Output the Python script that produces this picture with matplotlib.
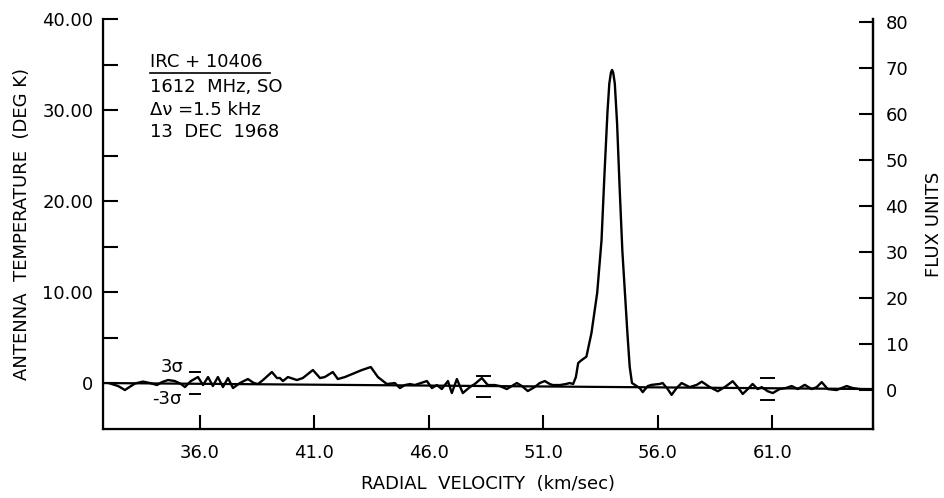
import numpy as np
import matplotlib
matplotlib.use("Agg")
import matplotlib.pyplot as plt

# 1612 MHz OH spectrum of IRC +10406, antenna temperature vs radial velocity
vel = [32.07, 32.42, 32.72, 32.98, 33.16, 33.51, 33.81, 34.12, 34.34, 34.60,
       34.90, 35.17, 35.34, 35.60, 35.91, 36.13, 36.35, 36.56, 36.78, 37.00,
       37.22, 37.44, 37.74, 38.09, 38.35, 38.53, 38.75, 39.14, 39.36, 39.49,
       39.62, 39.84, 40.23, 40.49, 40.93, 41.24, 41.45, 41.80, 42.02, 42.33,
       42.76, 43.07, 43.46, 43.77, 44.16, 44.51, 44.73, 44.95, 45.17, 45.38,
       45.65, 45.91, 46.13, 46.35, 46.56, 46.83, 47.00, 47.22, 47.48, 47.79,
       48.00, 48.31, 48.57, 48.88, 49.10, 49.40, 49.62, 49.84, 50.06, 50.32,
       50.62, 50.84, 51.06, 51.28, 51.41, 51.72, 51.98, 52.15, 52.30, 52.42,
       52.52, 52.66, 52.88, 53.10, 53.35, 53.54, 53.66, 53.80, 53.88, 53.95,
       54.00, 54.05, 54.12, 54.22, 54.33, 54.45, 54.56, 54.67, 54.77, 54.87,
       55.21, 55.34, 55.56, 55.73, 55.91, 56.08, 56.21, 56.43, 56.60, 56.82,
       57.04, 57.39, 57.70, 57.92, 58.27, 58.62, 58.92, 59.27, 59.49, 59.71,
       59.93, 60.14, 60.36, 60.54, 60.80, 61.02, 61.32, 61.59, 61.85, 62.11,
       62.42, 62.72, 62.94, 63.16, 63.42, 63.81, 64.25, 64.51, 64.82]
temp = [-0.05, -0.33, -0.77, -0.33, -0.05, 0.16, 0.00, -0.22, 0.11, 0.33,
        0.22, -0.11, -0.44, 0.22, 0.66, -0.22, 0.66, -0.33, 0.66, -0.44,
        0.55, -0.55, 0.00, 0.44, 0.00, -0.11, 0.33, 1.21, 0.55, 0.55,
        0.22, 0.66, 0.33, 0.55, 1.43, 0.55, 0.66, 1.21, 0.44, 0.66,
        1.10, 1.43, 1.76, 0.66, -0.11, 0.00, -0.55, -0.22, -0.11, -0.22,
        0.00, 0.22, -0.55, -0.22, -0.66, 0.22, -1.10, 0.44, -1.10, -0.44,
        -0.11, 0.55, -0.22, -0.22, -0.33, -0.66, -0.33, 0.00, -0.33, -0.88,
        -0.44, 0.00, 0.22, -0.11, -0.22, -0.22, -0.11, 0.00, -0.10, 0.66,
        2.20, 2.50, 2.90, 5.50, 9.90, 15.70, 22.50, 29.80, 32.90, 34.10,
        34.40, 34.10, 32.90, 28.50, 21.50, 14.50, 9.90, 5.50, 1.80, 0.00,
        -0.55, -1.00, -0.33, -0.20, -0.15, -0.10, 0.00, -0.66, -1.30, -0.55,
        0.00, -0.45, -0.20, 0.15, -0.45, -0.90, -0.45, 0.20, -0.45, -1.20,
        -0.66, -0.10, -0.66, -0.45, -0.90, -1.10, -0.66, -0.55, -0.33, -0.66,
        -0.20, -0.66, -0.45, 0.10, -0.66, -0.77, -0.33, -0.55, -0.66]

# fitted baseline
base_v = [31.76, 65.40]
base_t = [0.00, -0.66]

# +/- 3 sigma markers
sig_v0 = [35.56, 48.10, 60.50]
sig_v1 = [36.00, 48.66, 61.08]
sig_top = [1.21, 0.77, 0.55]
sig_bot = [-1.21, -1.54, -1.87]

xticks = [36.0, 41.0, 46.0, 51.0, 56.0, 61.0]
yticks = [0, 10, 20, 30, 40]
yminor = [5, 15, 25, 35]
fticks = [0, 10, 20, 30, 40, 50, 60, 70, 80]

notes = ["IRC + 10406", "1612  MHz, SO", "\u0394\u03bd =1.5 kHz", "13  DEC  1968"]

plt.rcParams['font.family'] = ['DejaVu Sans']
fs = 13

fig = plt.figure(figsize=(9.44, 4.98), dpi=100)
W, H = 944, 498
ax = fig.add_axes([103 / W, 1 - 429 / H, 770 / W, 410 / H])

ax.plot(vel, temp, color='black', lw=1.7, solid_joinstyle='round')
ax.plot(base_v, base_t, color='black', lw=1.6)
for a, b, t, s in zip(sig_v0, sig_v1, sig_top, sig_bot):
    ax.plot([a, b], [t, t], color='black', lw=1.4)
    ax.plot([a, b], [s, s], color='black', lw=1.4)

ax.text(34.77, 1.76, "3\u03c3", fontsize=fs, ha='center', va='center')
ax.text(34.55, -1.70, "-3\u03c3", fontsize=fs, ha='center', va='center')

ax.set_xlim(31.76, 65.40)
ax.set_ylim(-5.05, 40.0)
ax.set_xticks(xticks)
ax.set_xticklabels([f"{v:.1f}" for v in xticks], fontsize=fs)
ax.set_yticks(yticks)
ax.set_yticklabels(["0", "10.00", "20.00", "30.00", "40.00"], fontsize=fs)
ax.set_yticks(yminor, minor=True)
ax.tick_params(axis='x', direction='in', length=10, width=1.5, pad=11)
ax.tick_params(axis='y', which='both', direction='in', length=11, width=1.5, pad=7)

ax.spines['top'].set_visible(False)
for side in ['left', 'bottom', 'right']:
    ax.spines[side].set_linewidth(1.6)

ax.set_xlabel("RADIAL  VELOCITY  (km/sec)", fontsize=fs, labelpad=9)
ax.set_ylabel("ANTENNA  TEMPERATURE  (DEG K)", fontsize=fs, labelpad=8)

# flux scale on the right
ax2 = ax.twinx()
ax2.set_ylim(-8.48, 80.65)
ax2.set_yticks(fticks)
ax2.set_yticklabels([str(v) for v in fticks], fontsize=fs)
ax2.tick_params(axis='y', direction='in', length=10, width=1.5, pad=9)
ax2.spines['top'].set_visible(False)
ax2.spines['right'].set_linewidth(1.6)
ax2.set_ylabel("FLUX UNITS", fontsize=fs, labelpad=12)

# source / observation notes
note_y = [0.895, 0.834, 0.778, 0.724]
for s, yy in zip(notes, note_y):
    ax.text(0.061, yy, s, transform=ax.transAxes, fontsize=fs, va='center', ha='left')
ax.plot([0.061, 0.217], [0.869, 0.869], transform=ax.transAxes, color='black', lw=1.2)

fig.savefig("out.png", dpi=100)
